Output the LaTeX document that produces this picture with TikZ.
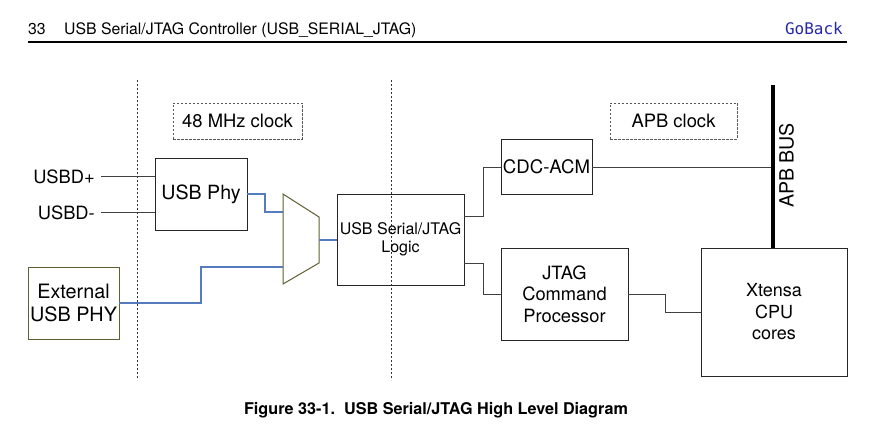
\documentclass[tikz,border=0pt]{standalone}
\usepackage{fontspec}
\setmainfont{TeX Gyre Heros}
\newfontfamily\gomono{DejaVu Sans Mono}
\usetikzlibrary{calc}
\definecolor{olivebd}{RGB}{95,95,50}
\definecolor{wireblue}{RGB}{85,125,190}
\definecolor{goblue}{RGB}{40,40,170}
\tikzset{
  blk/.style={draw=black!85, line width=0.9pt, inner sep=0pt, align=center,
              font=\fontsize{18.3}{21.5}\selectfont},
  clkbox/.style={draw=black!65, dash pattern=on 2.5pt off 1.5pt, line width=0.8pt,
              inner sep=0pt, font=\fontsize{18.4}{21.5}\selectfont},
  wire/.style={draw=black!75, line width=0.9pt},
  bwire/.style={draw=wireblue, line width=1.1pt},
  vdash/.style={draw=black!80, line width=0.9pt, dash pattern=on 2pt off 2pt},
  lbl/.style={inner sep=0pt, font=\fontsize{18.3}{21.5}\selectfont},
}
\begin{document}
\begin{tikzpicture}[x=1pt,y=-1pt]
\useasboundingbox[fill=white] (0,0) rectangle (871,441);
% header
\node[anchor=base west, inner sep=0pt, font=\fontsize{15.8}{18}\selectfont] (hnum) at (28,35) {33};
\node[anchor=base west, inner sep=0pt, font=\fontsize{15.8}{18}\selectfont] (htitle) at (64,35) {USB Serial/JTAG Controller (USB\_SERIAL\_JTAG)};
\node[anchor=base east, inner sep=0pt, text=goblue, font=\gomono\fontsize{16}{18}\selectfont] (goback) at (843,35) {GoBack};
\coordinate (rl) at (28,42);
\coordinate (rr) at (847,42);
\draw[line width=1.2pt] (rl) -- (rr);
% dashed vertical separators
\coordinate (d1t) at (137,80); \coordinate (d1b) at (137,380);
\coordinate (d2t) at (391,80); \coordinate (d2b) at (391,380);
\draw[vdash] (d1t) -- (d1b);
\draw[vdash] (d2t) -- (d2b);
% clock boxes
\node[clkbox, minimum width=129pt, minimum height=36pt] (clk48) at (237.5,121) {48 MHz clock};
\node[clkbox, minimum width=127pt, minimum height=36pt] (apbclk) at (673.5,121) {APB clock};
% blocks
\node[blk, fill=white, minimum width=92pt, minimum height=72pt,
      font=\fontsize{19.6}{22}\selectfont] (usbphy) at (201,194) {USB Phy};
\node[blk, draw=olivebd, fill=white, minimum width=91pt, minimum height=72pt,
      font=\fontsize{19.8}{23}\selectfont] (ext) at (73.5,303) {External\\USB PHY};
\node[blk, minimum width=127pt, minimum height=91pt,
      font=\fontsize{16}{18}\selectfont] (logic) at (400.5,239.5) {USB Serial/JTAG\\Logic};
\node[blk, minimum width=91pt, minimum height=55pt,
      font=\fontsize{18.6}{21.5}\selectfont] (cdc) at (546.5,166.5) {CDC-ACM};
\node[blk, minimum width=127pt, minimum height=92pt] (jtag) at (564.5,294) {JTAG\\Command\\Processor};
\node[blk, minimum width=146pt, minimum height=128pt,
      font=\fontsize{18}{21.5}\selectfont] (xt) at (774,312) {Xtensa\\CPU\\cores};
% inputs
\node[lbl, anchor=east] (usbdp) at (95,177) {USBD+};
\node[lbl, anchor=east] (usbdm) at (95,213) {USBD-};
\coordinate (dpS) at (101,176);
\coordinate (dmS) at (101,212);
\draw[wire] (dpS) -- (dpS -| usbphy.west);
\draw[wire] (dmS) -- (dmS -| usbphy.west);
% mux
\coordinate (mA) at (283,194);
\coordinate (mB) at (319,217);
\coordinate (mC) at (319,263);
\coordinate (mD) at (283,284);
\coordinate (min1) at (283,212);
\coordinate (min2) at (283,267);
\coordinate (mout) at (319,240);
\draw[draw=olivebd, line width=1pt, line join=miter] (mA) -- (mB) -- (mC) -- (mD) -- cycle;
% blue wires
\coordinate (pho) at (usbphy.east |- 0,194);
\draw[bwire] (pho) -- (265,194) -- (265,212) -- (min1);
\coordinate (exo) at (ext.east |- 0,303);
\draw[bwire] (exo) -- (201,303) -- (201,267) -- (min2);
\draw[bwire] (mout) -- (mout -| logic.west);
% logic to cdc / jtag
\coordinate (lo1) at (logic.east |- 0,216);
\coordinate (lo2) at (logic.east |- 0,263);
\draw[wire] (lo1) -- (483,216) -- (483,167) -- (483,167 -| cdc.west);
\draw[wire] (lo2) -- (483,263) -- (483,294) -- (483,294 -| jtag.west);
% jtag to xtensa
\coordinate (jo) at (jtag.east |- 0,294);
\draw[wire] (jo) -- (665,294) -- (665,312) -- (665,312 -| xt.west);
% APB bus
\coordinate (bust) at (773,85);
\coordinate (busb) at (773,248);
\draw[wire] (cdc.east |- 0,167) -- (773,167);
\draw[line width=3.2pt] (bust) -- (busb);
\node[lbl, rotate=90, font=\fontsize{19.6}{21}\selectfont] (apbbus) at (786.5,165.5) {APB BUS};
% caption
\node[anchor=base, inner sep=0pt, font=\bfseries\fontsize{16.2}{18}\selectfont] (cap) at (436,414) {Figure 33-1.\ \ USB Serial/JTAG High Level Diagram};
\end{tikzpicture}
\end{document}
